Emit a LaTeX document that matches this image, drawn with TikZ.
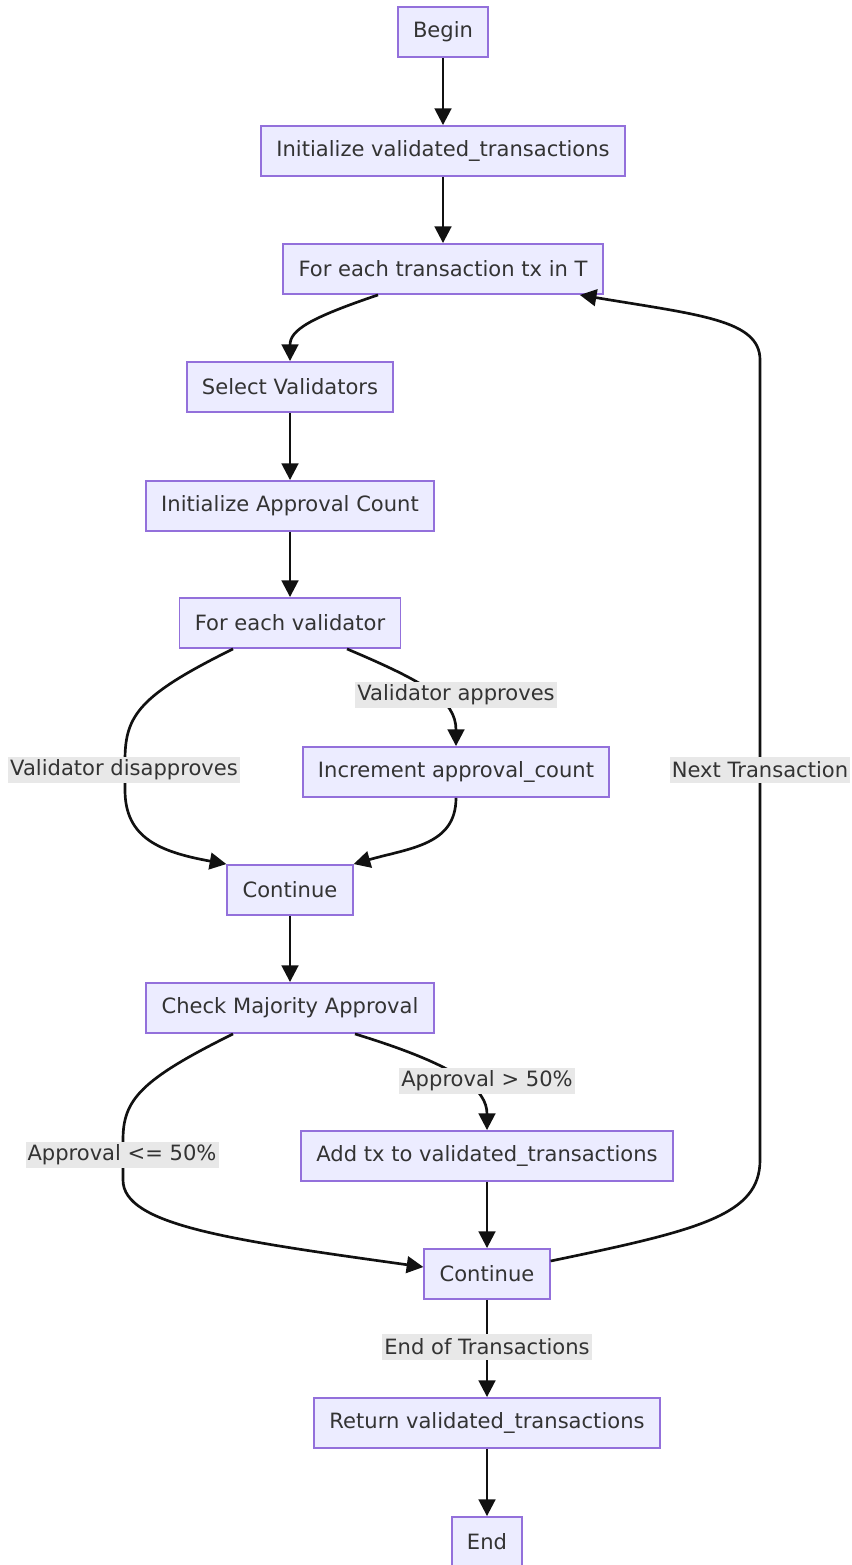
\documentclass[tikz,border=0pt]{standalone}
\usepackage{fontspec}
\setmainfont{DejaVu Sans}
\usetikzlibrary{arrows.meta,calc}
\definecolor{nodefill}{HTML}{ECECFF}
\definecolor{nodeline}{HTML}{9370DB}
\definecolor{labelfill}{HTML}{E8E8E8}
\definecolor{txt}{HTML}{333333}
\definecolor{wire}{HTML}{111111}
\begin{document}
\begin{tikzpicture}[x=0.75pt,y=-0.75pt,
  box/.style={draw=nodeline,fill=nodefill,line width=1.4pt,minimum height=37.5pt,
    inner xsep=11.5pt,text=txt,font=\fontsize{15.8}{18}\selectfont},
  lbl/.style={fill=labelfill,inner xsep=1.5pt,inner ysep=0pt,minimum height=19pt,
    text=txt,font=\fontsize{15.8}{18}\selectfont},
  arr/.style={draw=wire,line width=2pt,-{Triangle[length=12.5pt,width=12.5pt]}}]
\useasboundingbox (0,0) rectangle (852,1565);
\fill[white] (0,0) rectangle (852,1565);

% nodes
\node[box] (begin) at (443,32) {Begin};
\node[box] (init) at (443,151) {Initialize validated\_transactions};
\node[box] (fortx) at (443,269) {For each transaction tx in T};
\node[box] (select) at (290,387) {Select Validators};
\node[box] (initac) at (290,506) {Initialize Approval Count};
\node[box] (forval) at (290,623) {For each validator};
\node[box] (inc) at (456,772) {Increment approval\_count};
\node[box] (cont1) at (290,890) {Continue};
\node[box] (check) at (290,1008) {Check Majority Approval};
\node[box] (addtx) at (487,1156) {Add tx to validated\_transactions};
\node[box] (cont2) at (487,1274) {Continue};
\node[box] (ret) at (487,1423) {Return validated\_transactions};
\node[box] (end) at (487,1542) {End};

% connectors
\draw[arr] (begin) -- (init);
\draw[arr] (init) -- (fortx);
\draw[arr] ($(fortx.south)+(-65,0)$) .. controls (310,318) and (290,330) .. (select.north);
\draw[arr] (select) -- (initac);
\draw[arr] (initac) -- (forval);

\draw[arr] ($(forval.south)+(-57,0)$) .. controls (140,695) and (125,715) .. (125,760)
  -- (125,790) .. controls (125,838) and (160,852) .. (cont1.north west);
\draw[arr] ($(forval.south)+(57,0)$) .. controls (425,682) and (456,700) .. (inc.north);
\draw[arr] (inc.south) .. controls (456,845) and (410,848) .. (cont1.north east);
\draw[arr] (cont1) -- (check);

\draw[arr] ($(check.south)+(-57,0)$) .. controls (140,1080) and (123,1100) .. (123,1140)
  -- (123,1180) .. controls (123,1225) and (230,1240) .. ($(cont2.west)+(0,-7)$);
\draw[arr] ($(check.south)+(65,0)$) .. controls (460,1066) and (487,1090) .. (addtx.north);
\draw[arr] (addtx) -- (cont2);

\draw[arr] ($(cont2.east)+(0,-13)$) .. controls (700,1230) and (760,1215) .. (760,1160)
  -- (760,360) .. controls (760,320) and (700,315) .. ($(fortx.south east)+(-24,0)$);
\draw[arr] (cont2) -- (ret);
\draw[arr] (ret) -- (end);

% edge labels
\node[lbl] (lapp) at (456,695) {Validator approves};
\node[lbl] (ldis) at (124,770) {Validator disapproves};
\node[lbl] (lnext) at (760,770) {Next Transaction};
\node[lbl] (lgt) at (487,1081) {Approval > 50\%};
\node[lbl] (lle) at (122,1155) {Approval <= 50\%};
\node[lbl] (lend) at (487,1347) {End of Transactions};
\end{tikzpicture}
\end{document}
